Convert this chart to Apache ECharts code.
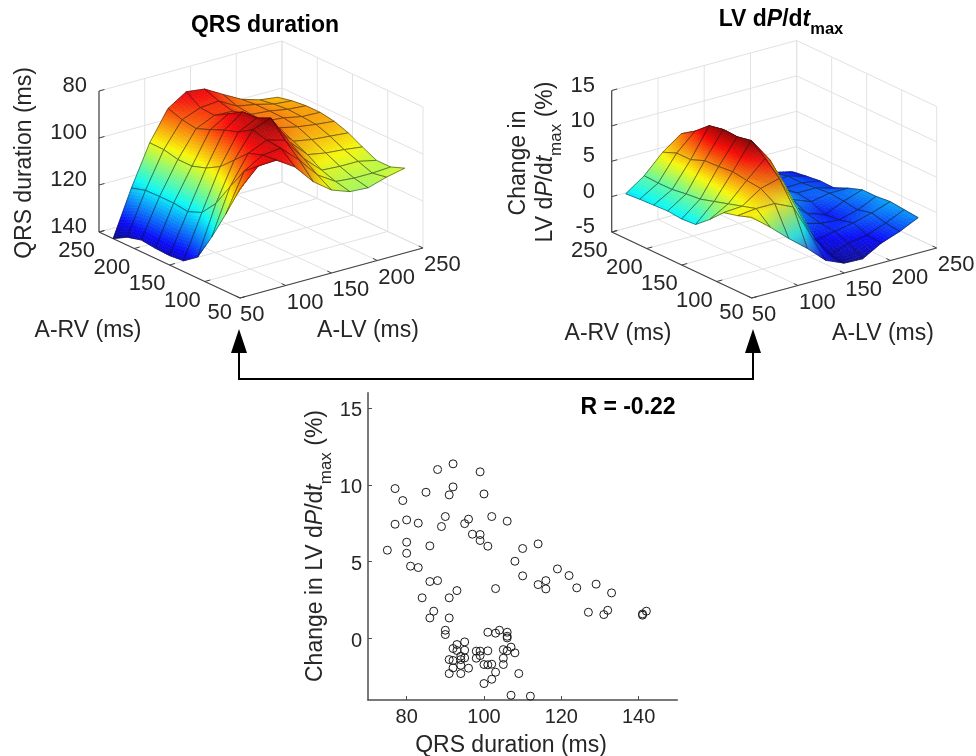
<!DOCTYPE html>
<html>
<head>
<meta charset="utf-8">
<script src="https://cdn.jsdelivr.net/npm/echarts@6/dist/echarts.min.js"></script>
<style>html,body{margin:0;padding:0;background:#fff}#c{width:976px;height:756px}</style>
</head>
<body>
<div id="c"></div>
<script>
// ---- data ----
const avDelayGrid = [50,70,90,110,130,150,170,190,210,230]; // A-LV (columns) and A-RV (rows), ms
const avTicks = [50,100,150,200,250];
const qrsTicks = [80,100,120,140];
const dpdtTicks = [-5,0,5,10,15];
// rows: A-RV 50..230, columns: A-LV 50..230
const qrsSurface = [
 [93.5,86,85.6,90.6,99,104.7,107.5,108,105.6,103.9],
 [107,91,86.3,85.5,92.6,101.1,106,106.7,106.7,106.2],
 [119.6,100.4,88.3,84.8,87,96.8,104,104.5,104.5,106.2],
 [131,110.3,94,83.3,80.4,92.5,100.2,101.6,102.3,103.3],
 [135.4,117,99.6,87,83.2,89.6,97.3,98.7,99.4,100.1],
 [136,119.4,103,89,83.4,88.8,94.4,96.1,97.2,98],
 [135.7,118.6,105,91.6,87,90.2,94.4,95.1,96.7,97],
 [135,118.6,105,94,90.5,90.8,94.3,95,96.4,97],
 [136.6,118.8,103.6,93,90,89.3,93.6,95,97,97.7],
 [140,120.6,103.5,91,86,87,91.4,95.6,98,99]
];
const dpdtSurface = [
 [6.4,4.3,2,-0.1,-2.5,-3.6,-3.7,-2.2,-1.25,0],
 [5.7,6,6,4.8,-0.1,-3.4,-2.4,-2,-1,0.2],
 [5.2,5.4,7.2,7.9,2.8,-2.2,-1.7,-1.2,-0.5,0.4],
 [3.3,4.8,7.4,9.8,5.6,-0.8,-1.5,-1.7,-1,0.2],
 [1.66,4.2,7.7,11.4,8,1.2,-1,-1.9,-0.7,0.2],
 [1.5,3.6,7.5,11,8.9,2.6,0,-1,-0.5,-0.5],
 [1.7,3.4,7.4,11.1,8.9,3,0.5,-0.7,-0.7,-1.4],
 [1.6,3.1,6.6,10.7,8.5,3,1,-1,-0.9,-1.35],
 [1.5,3.07,6.6,9,8,2.5,0.5,-1.2,-0.9,-1.6],
 [1.33,3.18,5.8,7.7,7,1.5,-0.5,-1.5,-1.3,-1.9]
];
const scatterQrs = [75,77,79,77,80,83,80,80,81,83,85,86,86,88,84,87,86,88,92,92,91,90,89,95,96,97,99,100,102,106,99,99,101,108,110,114,110,114,116,116,103,93,91,91,90,90,119,122,124,129,133,127,132,131,141,142,141,
 101,103,104,106,106,106,95,93,92,93,95,98,99,101,105,107,106,108,91,92,94,95,94,98,99,105,100,101,102,105,94,96,92,91,94,103,109,102,100,107,112];
const scatterDpdt = [5.75,9.76,8.98,7.44,7.72,7.51,6.27,5.55,4.71,4.62,9.52,6.03,3.71,3.77,2.65,1.78,1.34,11,11.37,9.87,9.35,7.94,7.29,7.48,7.77,6.79,10.85,9.41,7.94,7.64,6.77,6.38,6.01,5.03,5.86,6.16,4.08,3.51,3.77,3.23,3.25,3.12,2.65,1.34,0.54,0.26,4.53,4.1,3.3,3.54,2.97,1.71,1.84,1.56,1.6,1.78,1.52,
 0.41,0.35,0.54,0.41,0.15,0.04,-0.22,-0.39,-0.65,-0.78,-0.76,-0.82,-0.82,-0.8,-0.72,-0.56,-0.8,-0.93,-1.37,-1.43,-1.15,-1.26,-1.37,-1.28,-1.11,-1.28,-1.69,-1.71,-1.67,-1.69,-1.74,-1.93,-1.91,-2.28,-2.28,-2.19,-2.28,-2.65,-2.93,-3.69,-3.75];
const FONT = '"Liberation Sans", Arial, sans-serif';
const INK = '#262626';

// ---- 3-D box scales (orthographic) ----
const leftBox = {origin:[240,298], lvEnd:[423,248], rvEnd:[99,232], height:141, zLow:140, zHigh:80, clim:[140,80], ticks:qrsTicks, labelX:87, labelDy:-5};
const rightBox = {origin:[751.7,298], lvEnd:[936.7,248], rvEnd:[611.7,232], height:141.5, zLow:-5, zHigh:15, clim:[-4,11.4], ticks:dpdtTicks, labelX:595, labelDy:-5};
function norm(v){return (v-50)/200;}
function zNorm(b,z){return (z-b.zLow)/(b.zHigh-b.zLow);}
function project(b,lv,rv,z){
  const t=norm(lv),u=norm(rv),v=zNorm(b,z);
  return [b.origin[0]+t*(b.lvEnd[0]-b.origin[0])+u*(b.rvEnd[0]-b.origin[0]),
          b.origin[1]+t*(b.lvEnd[1]-b.origin[1])+u*(b.rvEnd[1]-b.origin[1])-v*b.height];
}
function jet(p){
  p=Math.max(0,Math.min(1,p));
  const f=x=>Math.max(0,Math.min(1,1.5-Math.abs(4*p-x)));
  return [f(3),f(2),f(1)];
}
function vertexLight(b,table,j,i){
  const n=table.length-1, m=table[0].length-1;
  const h=(jj,ii)=>zNorm(b,table[jj][ii])*0.8;
  const dx=(h(j,Math.min(m,i+1))-h(j,Math.max(0,i-1)))/((Math.min(m,i+1)-Math.max(0,i-1))*0.1);
  const dy=(h(Math.min(n,j+1),i)-h(Math.max(0,j-1),i))/((Math.min(n,j+1)-Math.max(0,j-1))*0.1);
  const len=Math.hypot(dx,dy,1);
  const nx=-dx/len,ny=-dy/len,nz=1/len;
  const diff=Math.max(0,nx*(-0.72)+ny*(-0.2)+nz*0.66);
  const spec=Math.pow(Math.max(0,nx*(-0.05)+ny*(-0.96)+nz*0.27),6);
  return {shade:Math.min(0.97,0.91+0.12*diff), spec:spec};
}
function surfaceVertices(b,table){
  return table.map((row,j)=>row.map((z,i)=>{
    const l=vertexLight(b,table,j,i);
    return {p:project(b,avDelayGrid[i],avDelayGrid[j],z),
            c:(z-b.clim[0])/(b.clim[1]-b.clim[0]),shade:l.shade,spec:l.spec};
  }));
}
function mix(a,b,c,d,s,t){return (a*(1-s)+b*s)*(1-t)+(d*(1-s)+c*s)*t;}
function surfaceSeries(b,table,name){
  const V=surfaceVertices(b,table);
  const cells=[];
  for(let i=table[0].length-2;i>=0;i--)for(let j=table.length-2;j>=0;j--)cells.push([i,j]);
  cells.sort((p,q)=>(q[0]+q[1])-(p[0]+p[1]));
  return {type:'custom',name,coordinateSystem:'none',silent:true,z:3,data:cells,
    renderItem(params,api){
      const i=api.value(0),j=api.value(1);
      const A=V[j][i],B=V[j][i+1],C=V[j+1][i+1],D=V[j+1][i];
      const children=[];
      const pt=(s,t)=>[mix(A.p[0],B.p[0],C.p[0],D.p[0],s,t),mix(A.p[1],B.p[1],C.p[1],D.p[1],s,t)];
      const SUBS=Math.max(6,Math.ceil(Math.max(Math.abs(B.c-A.c),Math.abs(C.c-D.c))*48));
      const SUBT=Math.max(6,Math.ceil(Math.max(Math.abs(D.c-A.c),Math.abs(C.c-B.c))*48));
      for(let a=0;a<SUBS;a++)for(let c=0;c<SUBT;c++){
        const s0=a/SUBS,s1=(a+1)/SUBS,t0=c/SUBT,t1=(c+1)/SUBT,sm=(s0+s1)/2,tm=(t0+t1)/2;
        const col=jet(mix(A.c,B.c,C.c,D.c,sm,tm));
        const sh=mix(A.shade,B.shade,C.shade,D.shade,sm,tm);
        const sp=Math.min(0.45,mix(A.spec,B.spec,C.spec,D.spec,sm,tm)*0.6);
        const rgb=col.map(v=>{const lit=Math.min(1,v*sh);return Math.round(255*Math.min(1,(lit+0.04*(1-lit))*(1-sp)+sp*0.6));});
        const fill='rgb('+rgb.join(',')+')';
        children.push({type:'polygon',silent:true,shape:{points:[pt(s0,t0),pt(s1,t0),pt(s1,t1),pt(s0,t1)]},
          style:{fill:fill,stroke:fill,lineWidth:0.6}});
      }
      children.push({type:'polygon',silent:true,shape:{points:[A.p,B.p,C.p,D.p]},
        style:{fill:'none',stroke:'rgba(20,20,20,0.66)',lineWidth:0.75}});
      return {type:'group',children};
    }};
}
function line(a,b,stroke,w){return {type:'line',silent:true,shape:{x1:a[0],y1:a[1],x2:b[0],y2:b[1]},style:{stroke,lineWidth:w,fill:null}};}
function text(x,y,t,align,extra){return {type:'text',silent:true,x,y,style:Object.assign({text:t,fill:INK,font:'22px '+FONT,align:align||'center',verticalAlign:'middle'},extra||{})};}
function boxSeries(b){
  return {type:'custom',name:'box',coordinateSystem:'none',silent:true,z:1,data:[[0]],
    renderItem(){
      const G='#e2e2e2',D='#444444',c=[];
      const lo=b.zLow,hi=b.zHigh;
      avTicks.forEach(v=>{
        c.push(line(project(b,v,50,lo),project(b,v,250,lo),G,1));
        c.push(line(project(b,50,v,lo),project(b,250,v,lo),G,1));
        c.push(line(project(b,v,250,lo),project(b,v,250,hi),G,1));
        c.push(line(project(b,250,v,lo),project(b,250,v,hi),G,1));
      });
      b.ticks.forEach(z=>{
        c.push(line(project(b,50,250,z),project(b,250,250,z),G,1));
        c.push(line(project(b,250,250,z),project(b,250,50,z),G,1));
      });
      c.push(line(project(b,50,250,lo),project(b,50,250,hi),D,1.2));
      c.push(line(project(b,50,50,lo),project(b,50,250,lo),D,1.2));
      c.push(line(project(b,50,50,lo),project(b,250,50,lo),D,1.2));
      avTicks.forEach(v=>{
        c.push(line(project(b,v,50,lo),project(b,v,56,lo),D,1));
        c.push(line(project(b,50,v,lo),project(b,56,v,lo),D,1));
        const p=project(b,v,50,lo),q=project(b,50,v,lo);
        c.push(text(p[0]+(v===50?0:1),p[1]+17,String(v),'left'));
        c.push(text(q[0]-(v===50?8:4),q[1]+(v===50?15:19),String(v),'right'));
      });
      b.ticks.forEach(z=>{
        const p=project(b,50,250,z);
        c.push(line(p,project(b,56,250,z),D,1));
        c.push(text(b.labelX,p[1]+b.labelDy,String(z),'right'));
      });
      return {type:'group',children:c};
    }};
}
const ff='"Liberation Sans"';
const richBase={
  n:{fontFamily:ff,fontSize:23,lineHeight:26,fill:INK},
  i:{fontFamily:ff,fontSize:23,fontStyle:'italic',lineHeight:26,fill:INK},
  s:{fontFamily:ff,fontSize:17,lineHeight:38,verticalAlign:'bottom',fill:INK},
  bn:{fontFamily:ff,fontSize:23,fontWeight:'bold',lineHeight:26,fill:'#000'},
  bi:{fontFamily:ff,fontSize:23,fontWeight:'bold',fontStyle:'italic',lineHeight:26,fill:'#000'},
  bs:{fontFamily:ff,fontSize:16.5,fontWeight:'bold',lineHeight:36,verticalAlign:'bottom',fill:'#000'}
};
function label(x,y,t,rot){
  return {type:'text',silent:true,x,y,rotation:rot||0,originX:0,originY:0,
    style:{text:t,rich:richBase,font:'23px '+FONT,fill:INK,align:'center',verticalAlign:'middle'}};
}
const bold=(x,y,t)=>({type:'text',silent:true,x,y,style:{text:t,rich:richBase,font:'bold 23px '+FONT,fill:'#000',align:'center',verticalAlign:'middle'}});
const V90=Math.PI/2;
const graphics=[
  bold(265,26,'{bn|QRS duration}'),
  bold(781,20,'{bn|LV d}{bi|P}{bn|/d}{bi|t}{bs|max}'),
  bold(628,408,'{bn|R = -0.22}'),
  label(25,163,'{n|QRS duration (ms)}',V90),
  label(88,331,'{n|A-RV (ms)}'),
  label(368,331,'{n|A-LV (ms)}'),
  label(519,163,'{n|Change in}',V90),
  label(546,162,'{n|LV d}{i|P}{n|/d}{i|t}{s|max}{n| (%)}',V90),
  label(618,334,'{n|A-RV (ms)}'),
  label(883,334,'{n|A-LV (ms)}'),
  label(316,546,'{n|Change in LV d}{i|P}{n|/d}{i|t}{s|max}{n| (%)}',V90),
  label(511,746,'{n|QRS duration (ms)}'),
  {type:'polyline',silent:true,shape:{points:[[239,350],[239,379],[753,379],[753,350]]},style:{stroke:'#000',lineWidth:2,fill:null}},
  {type:'polygon',silent:true,shape:{points:[[239,329],[231,353],[247,353]]},style:{fill:'#000'}},
  {type:'polygon',silent:true,shape:{points:[[753,329],[745,353],[761,353]]},style:{fill:'#000'}}
];
const scatterData=scatterQrs.map((x,k)=>[x,scatterDpdt[k]]);
const axisCommon={axisLine:{show:true,onZero:false,lineStyle:{color:'#4d4d4d',width:1.5}},splitLine:{show:false}};
const chart=echarts.init(document.getElementById('c'),null,{renderer:'canvas'});
chart.setOption({
  animation:false,
  backgroundColor:'#fff',
  grid:{left:368,top:392.7,width:309.3,height:307.3,containLabel:false},
  xAxis:Object.assign({type:'value',min:70,max:150,
    axisTick:{show:true,inside:true,length:4,lineStyle:{color:'#4d4d4d'},customValues:[80,100,120,140]},
    axisLabel:{color:INK,fontSize:20,fontFamily:ff,margin:7,customValues:[80,100,120,140]}},axisCommon),
  yAxis:Object.assign({type:'value',min:-4,max:16,
    axisTick:{show:true,inside:true,length:4,lineStyle:{color:'#4d4d4d'},customValues:[0,5,10,15]},
    axisLabel:{color:INK,fontSize:20,fontFamily:ff,margin:6,formatter:'{a|{value}}',rich:{a:{fontSize:20,fontFamily:ff,color:INK,padding:[5,0,0,0]}},customValues:[0,5,10,15]}},axisCommon),
  graphic:graphics,
  series:[
    {type:'scatter',name:'Change in LV dP/dtmax vs QRS duration',data:scatterData,symbol:'circle',symbolSize:8,silent:true,
     itemStyle:{color:'rgba(255,255,255,0)',borderColor:'#1a1a1a',borderWidth:1,opacity:1}},
    boxSeries(leftBox),
    boxSeries(rightBox),
    surfaceSeries(leftBox,qrsSurface,'QRS duration'),
    surfaceSeries(rightBox,dpdtSurface,'LV dP/dtmax')
  ]
});
</script>
</body>
</html>
